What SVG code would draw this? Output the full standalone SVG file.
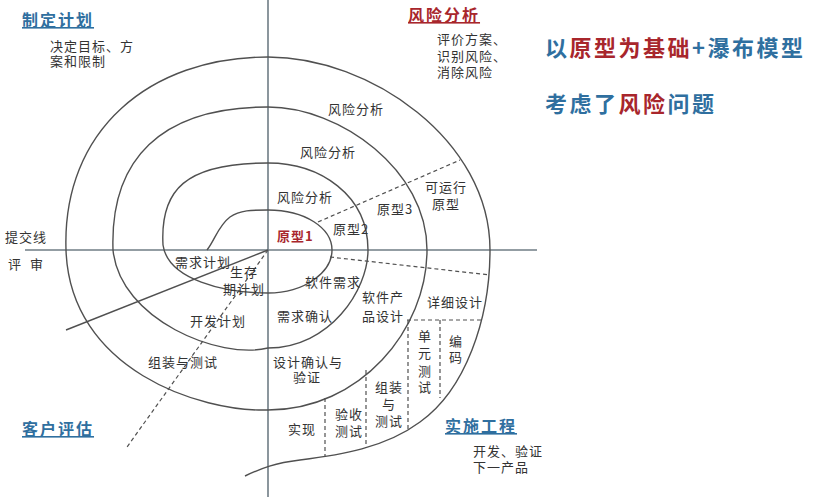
<svg xmlns="http://www.w3.org/2000/svg" width="815" height="497" viewBox="0 0 815 497">
<style>
text{font-family:"Noto Sans CJK SC","Noto Sans",sans-serif;}
.t{font-size:13px;fill:#333;letter-spacing:1px;}
.h{font-size:16px;font-weight:bold;letter-spacing:2px;text-decoration:underline;}
.blue{fill:#2f6f9f;}
.red{fill:#a8262c;}
.big{font-size:22px;font-weight:bold;letter-spacing:2.5px;}
.axis{stroke:#6f7c85;stroke-width:1.6;fill:none;}
.sp{stroke:#505050;stroke-width:1.4;fill:none;}
.d{stroke:#505050;stroke-width:1.2;fill:none;stroke-dasharray:4 3;}
</style>
<rect width="815" height="497" fill="#fff"/>
<g id="axes">
<line class="axis" x1="268" y1="0" x2="268" y2="497"/>
<line class="axis" x1="25" y1="250" x2="537" y2="250"/>
</g>
<g id="spiral">
<path class="sp" d="M207,250 C215,240 218,226 230,217 C240,210 252,210 268,210 C305,210 332,228 332,250 C332,272 305,293 268,293 C225,293 168,280 163,245 C160,190 185,163 268,163 C320,163 368,195 368,250 C368,290 330,348 268,348 C220,360 120,320 113,250 C110,160 160,107 268,107 C340,107 427,170 427,250 C427,330 360,410 268,410 C200,412 70,370 66,250 C62,130 150,57 268,57 C370,57 490,140 490,250 C490,320 465,390 420,422 C385,448 340,455 300,460 C275,463 262,468 245,476"/>
</g>
<g id="connectors">
<line class="sp" x1="268" y1="250" x2="66" y2="330"/>
<line class="d" x1="268" y1="250" x2="127" y2="447"/>
<line class="d" x1="318" y1="222" x2="460" y2="160"/>
<line class="d" x1="330" y1="257" x2="490" y2="275"/>
<line class="d" x1="407" y1="320" x2="481" y2="320"/>
<line class="d" x1="408" y1="320" x2="408" y2="432"/>
<line class="d" x1="440" y1="320" x2="440" y2="398"/>
<line class="d" x1="366" y1="370" x2="366" y2="448"/>
<line class="d" x1="325" y1="398" x2="325" y2="457"/>
</g>
<g id="plan">
<text class="h blue" x="22" y="26">制定计划</text>
<text class="t" x="50" y="51">决定目标、方</text>
<text class="t" x="50" y="66">案和限制</text>
</g>
<g id="risk">
<text class="h red" x="408" y="21">风险分析</text>
<text class="t" x="437" y="44">评价方案、</text>
<text class="t" x="437" y="61">识别风险、</text>
<text class="t" x="437" y="77">消除风险</text>
</g>
<g id="title">
<text class="big" x="545" y="56"><tspan class="blue">以</tspan><tspan class="red">原型为基础</tspan><tspan class="blue">+瀑布模型</tspan></text>
<text class="big" x="545" y="112"><tspan class="blue">考虑了</tspan><tspan class="red">风险</tspan><tspan class="blue">问题</tspan></text>
</g>
<g id="engineering">
<text class="h blue" x="445" y="432">实施工程</text>
<text class="t" x="473" y="456">开发、验证</text>
<text class="t" x="473" y="472">下一产品</text>
</g>
<g id="customer">
<text class="h blue" x="22" y="435">客户评估</text>
</g>
<g id="commit">
<text class="t" x="5" y="242">提交线</text>
<text class="t" x="8" y="269">评</text>
<text class="t" x="30" y="269">审</text>
</g>
<g id="labels">
<text class="t" x="328" y="114">风险分析</text>
<text class="t" x="300" y="157">风险分析</text>
<text class="t" x="277" y="202">风险分析</text>
<text class="t red" x="277" y="241" font-weight="bold">原型1</text>
<text class="t" x="333" y="234">原型2</text>
<text class="t" x="377" y="214">原型3</text>
<text class="t" x="425" y="192">可运行</text>
<text class="t" x="432" y="209">原型</text>
<text class="t" x="175" y="267">需求计划</text>
<text class="t" x="230" y="277">生存</text>
<text class="t" x="223" y="294">期计划</text>
<text class="t" x="305" y="287">软件需求</text>
<text class="t" x="277" y="321">需求确认</text>
<text class="t" x="190" y="326">开发计划</text>
<text class="t" x="362" y="302">软件产</text>
<text class="t" x="362" y="321">品设计</text>
<text class="t" x="427" y="307">详细设计</text>
<text class="t" x="148" y="367">组装与测试</text>
<text class="t" x="273" y="367">设计确认与</text>
<text class="t" x="293" y="382">验证</text>
<text class="t" x="288" y="434">实现</text>
<text class="t" x="335" y="419">验收</text>
<text class="t" x="335" y="436">测试</text>
<text class="t" x="375" y="392">组装</text>
<text class="t" x="382" y="409">与</text>
<text class="t" x="375" y="426">测试</text>
<text class="t" x="418" y="341">单</text>
<text class="t" x="418" y="358">元</text>
<text class="t" x="418" y="376">测</text>
<text class="t" x="418" y="392">试</text>
<text class="t" x="449" y="346">编</text>
<text class="t" x="449" y="362">码</text>
</g>
</svg>
